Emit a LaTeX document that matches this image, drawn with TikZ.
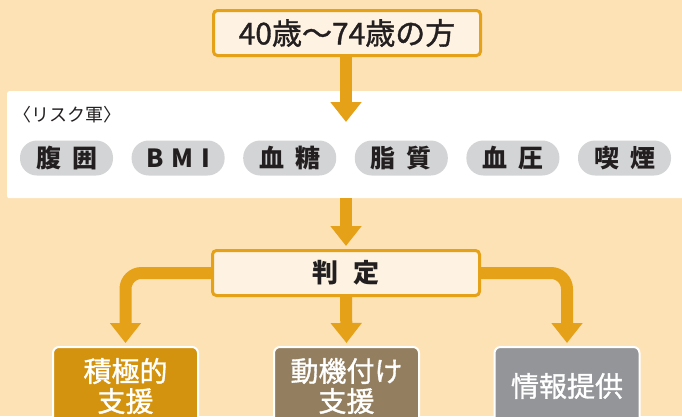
\documentclass[tikz,border=0pt]{standalone}
\usepackage{fontspec}
\setmainfont{Noto Sans CJK JP}
\newfontfamily\medfont{Noto Sans CJK JP}[FakeBold=1.2]
\usetikzlibrary{arrows.meta,positioning}
\definecolor{peach}{HTML}{FDE2B6}
\definecolor{darkorange}{HTML}{E5A117}
\definecolor{cream}{HTML}{FEF3E2}
\definecolor{pillgray}{HTML}{D3D4D5}
\definecolor{inkdark}{HTML}{231F20}
\definecolor{gold}{HTML}{D3930F}
\definecolor{mocha}{HTML}{937F5F}
\definecolor{slate}{HTML}{939598}
\tikzset{
  headbox/.style={draw=darkorange,line width=3pt,fill=cream,rounded corners=4pt,minimum width=267pt,minimum height=45pt,text=inkdark},
  pill/.style={fill=pillgray,rounded corners=17pt,minimum width=93pt,minimum height=35pt,inner sep=0pt,text=inkdark,font=\fontsize{25}{25}\selectfont\bfseries},
  result/.style={draw=white,line width=2pt,rounded corners=6pt,minimum width=145pt,minimum height=78pt,anchor=north,text=white,align=center,font=\fontsize{28}{30}\selectfont\medfont},
  flow/.style={darkorange,line width=12pt,-{Triangle[width=30pt,length=20pt]},shorten >=3pt},
}
\begin{document}
\begin{tikzpicture}[x=1pt,y=-1pt]
\clip (0,0) rectangle (682,416);
\fill[peach] (0,0) rectangle (682,416);
%
\node (risk) [fill=white,rounded corners=2pt,minimum width=680pt,minimum height=107pt,anchor=north west,inner sep=0pt] at (7,91) {};
\node (risklabel) [anchor=west,inner sep=0pt,text=inkdark,font=\fontsize{18}{18}\selectfont] at (13,115) {〈リスク軍〉};
\foreach \name/\txt [count=\i] in {waist/腹\hspace{11pt}囲, bmi/B\hspace{8pt}M\hspace{8pt}I, sugar/血\hspace{11pt}糖, lipid/脂\hspace{11pt}質, pressure/血\hspace{11pt}圧, smoke/喫\hspace{11pt}煙}
  \node (\name) [pill] at ({66.5+111.6*(\i-1)},158) {\txt};
%
\node (age) [headbox,font=\fontsize{30}{30}\selectfont\medfont] at (347,33) {40歳～74歳の方};
\node (judge) [headbox,font=\fontsize{26}{26}\selectfont\bfseries] at (346,273) {判\hspace{15pt}定};
%
\node (active) [result,fill=gold] at (125.5,346) {積極的\\支援};
\node (motive) [result,fill=mocha] at (346.5,346) {動機付け\\支援};
\node (info) [result,fill=slate] at (567,346) {情報提供};
%
\coordinate (riskin) at (346,125);
\draw[flow] (riskin |- age.south) -- (riskin);
\draw[flow] (riskin |- risk.south) -- (judge.north);
\draw[flow,rounded corners=16pt] (judge.west) -| (active.north);
\draw[flow] (judge.south) -- (motive.north);
\draw[flow,rounded corners=16pt] (judge.east) -| (info.north);
\end{tikzpicture}
\end{document}
